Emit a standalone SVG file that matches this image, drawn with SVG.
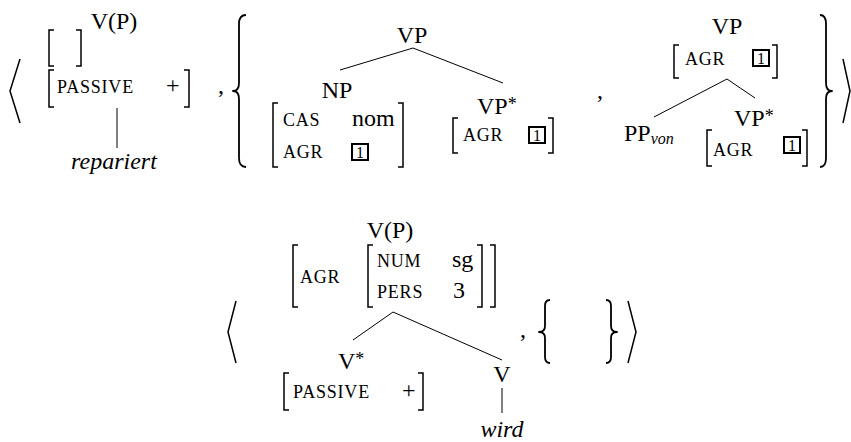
<svg xmlns="http://www.w3.org/2000/svg" width="851" height="442" viewBox="0 0 851 442" font-family="'Liberation Serif', 'DejaVu Serif', serif">
<style>
text { font-family: "Liberation Serif", "DejaVu Serif", serif; fill: #000; }
.n { font-size: 24px; }
.mid { text-anchor: middle; }
.st { font-size: 18px; }
.sc { font-size: 18px; letter-spacing: 0.8px; }
.it { font-style: italic; font-size: 24px; }
.sub { font-style: italic; font-size: 16px; }
.bx { font-size: 16px; text-anchor: middle; }
.br { fill: none; stroke: #000; stroke-width: 1.5; }
.brace { fill: none; stroke: #000; stroke-width: 1.8; stroke-linejoin: round; }
.ang { fill: none; stroke: #000; stroke-width: 1.5; }
.box { fill: none; stroke: #000; stroke-width: 2; }
.edge { fill: none; stroke: #000; stroke-width: 1; }
</style>
<rect width="851" height="442" fill="#fff"/>

<!-- Tuple 1 delimiters -->
<g id="tuple1-delims">
  <path class="ang" d="M20 59 L10 91 L20 123"/>
  <text class="n" x="218" y="93">,</text>
  <path class="brace" d="M246 15 Q239 15 239 24 V83 Q239 91 233 91 Q239 91 239 99 V158 Q239 167 246 167"/>
  <text class="n" x="597" y="98">,</text>
  <path class="brace" d="M820 15 Q826 15 826 24 V83 Q826 91 832 91 Q826 91 826 99 V158 Q826 167 820 167"/>
  <path class="ang" d="M843 59 L850 91 L843 123"/>
</g>

<!-- Tuple 1 first element -->
<g id="t1-vp">
  <text class="n mid" x="114" y="28.5">V(P)</text>
  <path class="br" d="M54 30 H49 V66 H54"/>
  <path class="br" d="M76 30 H81 V66 H76"/>
  <path class="br" d="M54 70 H49 V107 H54"/>
  <text class="sc" x="57" y="93">PASSIVE</text>
  <text class="n" x="166" y="93">+</text>
  <path class="br" d="M184 70 H189 V107 H184"/>
</g>
<g id="t1-repariert">
  <text class="it mid" x="114" y="169">repariert</text>
</g>

<!-- Tree A -->
<g id="treeA-vp">
  <text class="n mid" x="412" y="43">VP</text>
</g>
<g id="treeA-np">
  <text class="n mid" x="337" y="98">NP</text>
  <path class="br" d="M278 103 H273 V167 H278"/>
  <text class="sc" x="283" y="126">CAS</text>
  <text class="n" x="352" y="126">nom</text>
  <text class="sc" x="283" y="158">AGR</text>
  <rect class="box" x="352" y="144" width="16" height="16"/>
  <text class="bx" x="360" y="158">1</text>
  <path class="br" d="M398 103 H403 V167 H398"/>
</g>
<g id="treeA-vpstar">
  <text class="n" x="477" y="114">VP<tspan class="st" dy="-4">*</tspan></text>
  <path class="br" d="M458 118 H453 V153 H458"/>
  <text class="sc" x="463" y="141">AGR</text>
  <rect class="box" x="529" y="127" width="16" height="16"/>
  <text class="bx" x="537" y="141">1</text>
  <path class="br" d="M548 118 H553 V153 H548"/>
</g>

<!-- Tree B -->
<g id="treeB-vp">
  <text class="n mid" x="727" y="34">VP</text>
  <path class="br" d="M679 45 H674 V78 H679"/>
  <text class="sc" x="685" y="65">AGR</text>
  <rect class="box" x="753" y="50" width="16" height="16"/>
  <text class="bx" x="761" y="64">1</text>
  <path class="br" d="M772 45 H777 V78 H772"/>
</g>
<g id="treeB-pp">
  <text class="n" x="624" y="141">PP<tspan class="sub" dy="3">von</tspan></text>
</g>
<g id="treeB-vpstar">
  <text class="n" x="734" y="126">VP<tspan class="st" dy="-4">*</tspan></text>
  <path class="br" d="M712 130 H707 V166 H712"/>
  <text class="sc" x="713" y="156">AGR</text>
  <rect class="box" x="784" y="137" width="16" height="16"/>
  <text class="bx" x="792" y="151">1</text>
  <path class="br" d="M802 130 H807 V166 H802"/>
</g>

<!-- Tuple 2 delimiters -->
<g id="tuple2-delims">
  <path class="ang" d="M236 301 L228 332 L236 363"/>
  <text class="n" x="520" y="337">,</text>
  <path class="brace" d="M550 300 Q545 300 545 306 V326 Q545 332 539 332 Q545 332 545 338 V357 Q545 363 550 363"/>
  <path class="brace" d="M606 300 Q611 300 611 306 V326 Q611 332 617 332 Q611 332 611 338 V357 Q611 363 606 363"/>
  <path class="ang" d="M628 301 L636 332 L628 363"/>
</g>

<g id="t2-vp">
  <text class="n mid" x="390" y="238">V(P)</text>
  <path class="br" d="M298 245 H293 V307 H298"/>
  <text class="sc" x="300" y="283">AGR</text>
  <path class="br" d="M373 245 H368 V307 H373"/>
  <text class="sc" x="377" y="267">NUM</text>
  <text class="sc" x="377" y="298">PERS</text>
  <text class="n" x="452" y="267">sg</text>
  <text class="n" x="453" y="298">3</text>
  <path class="br" d="M477 245 H482 V307 H477"/>
  <path class="br" d="M490 245 H495 V307 H490"/>
</g>
<g id="t2-vstar">
  <text class="n" x="338" y="369">V<tspan class="st" dy="-4">*</tspan></text>
  <path class="br" d="M289 373 H284 V410 H289"/>
  <text class="sc" x="293" y="398">PASSIVE</text>
  <text class="n" x="402" y="398">+</text>
  <path class="br" d="M418 373 H423 V410 H418"/>
</g>
<g id="t2-v">
  <text class="n mid" x="502" y="382">V</text>
</g>
<g id="t2-wird">
  <text class="it mid" x="502" y="437">wird</text>
</g>

<!-- Connectors -->
<g id="connectors">
  <path class="edge" d="M117 108 V148"/>
  <path class="edge" d="M413 48 L340 70"/>
  <path class="edge" d="M413 48 L503 83"/>
  <path class="edge" d="M727 79 L654 117"/>
  <path class="edge" d="M727 79 L755 98"/>
  <path class="edge" d="M393 312 L353 340"/>
  <path class="edge" d="M393 312 L502 360"/>
  <path class="edge" d="M502 388 V413"/>
</g>
</svg>
